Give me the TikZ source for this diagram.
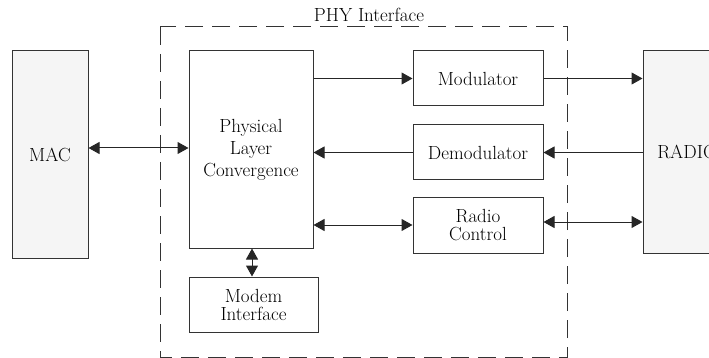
\documentclass[tikz,border=0pt]{standalone}
\usetikzlibrary{arrows.meta}
\begin{document}
\begin{tikzpicture}[x=1pt,y=-1pt,
        font=\fontsize{19}{18}\selectfont,
        >={Triangle[length=11pt,width=12pt]},
        block/.style={draw=black!80,line width=1pt,align=center,inner sep=0pt},
        outer/.style={block,fill=black!4},
        link/.style={black!85,line width=1pt}]
        \useasboundingbox (0,0) rectangle (709,358);
        \clip (0,0) rectangle (709,358);

        % PHY interface frame
        \draw[black!80,line width=1pt,dash pattern=on 18pt off 9pt] (160,27) rectangle (567,357);
        \node (phylbl) at (369,15) {PHY Interface};

        \node[outer,minimum width=76pt,minimum height=207pt] (mac) at (50,154.5) {MAC};
        \node[outer,minimum width=88pt,minimum height=202pt] (radio) at (687,152) {RADIO};

        \node[block,minimum width=124pt,minimum height=197pt] (plc) at (251,149.5) {Physical\\[4pt] Layer\\[4pt] Convergence};
        \node[block,minimum width=130pt,minimum height=55pt] (mod) at (478,78.5) {Modulator};
        \node[block,minimum width=130pt,minimum height=55pt] (demod) at (478,152.5) {Demodulator};
        \node[block,minimum width=130pt,minimum height=55pt] (rctl) at (478,225.5) {Radio\\ Control};
        \node[block,minimum width=129pt,minimum height=55pt] (modem) at (253.5,304.5) {Modem\\ Interface};

        \path[link,<->] (mac.east |- 0,148) edge (plc.west |- 0,148);
        \path[link,->] (plc.east |- mod) edge (mod)
                       (mod) edge (radio.west |- mod)
                       (radio.west |- demod) edge (demod)
                       (demod) edge (plc.east |- demod);
        \path[link,<->] (plc.east |- 0,225) edge (rctl.west |- 0,225)
                        (rctl.east |- 0,222) edge (radio.west |- 0,222)
                        (plc.south -| 252,0) edge (modem.north -| 252,0);

    \end{tikzpicture}
\end{document}
